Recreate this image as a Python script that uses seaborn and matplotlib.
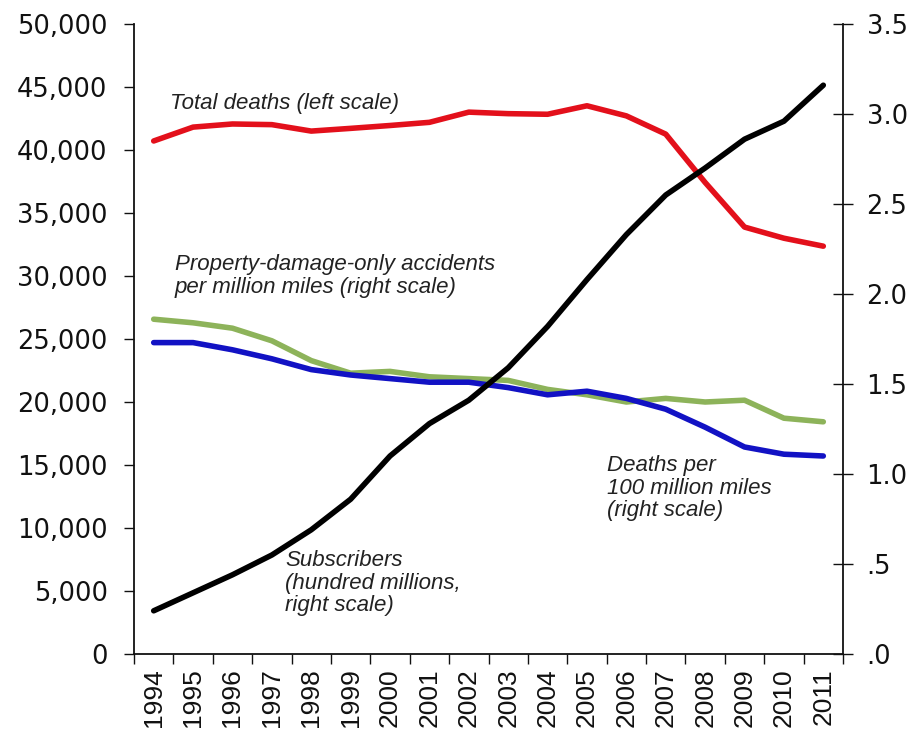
import matplotlib
matplotlib.use("Agg")
import matplotlib.pyplot as plt
import seaborn as sns
import pandas as pd
import numpy as np

years = [1994, 1995, 1996, 1997, 1998, 1999, 2000, 2001, 2002, 2003,
         2004, 2005, 2006, 2007, 2008, 2009, 2010, 2011]
total_deaths = [40716, 41817, 42065, 42013, 41501, 41717, 41945, 42196, 43005,
                42884, 42836, 43510, 42708, 41259, 37423, 33883, 32999, 32367]
subscribers = [0.24, 0.34, 0.44, 0.55, 0.69, 0.86, 1.10, 1.28, 1.41, 1.59,
               1.82, 2.08, 2.33, 2.55, 2.70, 2.86, 2.96, 3.16]
deaths_rate = [1.73, 1.73, 1.69, 1.64, 1.58, 1.55, 1.53, 1.51, 1.51, 1.48,
               1.44, 1.46, 1.42, 1.36, 1.26, 1.15, 1.11, 1.10]
pdo_rate = [1.86, 1.84, 1.81, 1.74, 1.63, 1.56, 1.57, 1.54, 1.53, 1.52,
            1.47, 1.44, 1.40, 1.42, 1.40, 1.41, 1.31, 1.29]
left_ticks = [0, 5000, 10000, 15000, 20000, 25000, 30000, 35000, 40000, 45000, 50000]
left_labels = ["0", "5,000", "10,000", "15,000", "20,000", "25,000", "30,000",
               "35,000", "40,000", "45,000", "50,000"]
right_ticks = [0, 0.5, 1.0, 1.5, 2.0, 2.5, 3.0, 3.5]
right_labels = [".0", ".5", "1.0", "1.5", "2.0", "2.5", "3.0", "3.5"]

sns.set_style("white")
plt.rcParams['font.family'] = ['DejaVu Sans']

df = pd.DataFrame({"x": np.arange(len(years)), "deaths": total_deaths,
                   "subs": subscribers, "rate": deaths_rate, "pdo": pdo_rate})

fig = plt.figure(figsize=(9.21, 7.37), dpi=100)
ax = fig.add_axes([134 / 921, 1 - 654 / 737, (843 - 134) / 921, (654 - 24) / 737])
ax2 = ax.twinx()

lw = 4.0
sns.lineplot(data=df, x="x", y="deaths", ax=ax, color="#e3101b", lw=lw)
sns.lineplot(data=df, x="x", y="pdo", ax=ax2, color="#8db35a", lw=lw)
sns.lineplot(data=df, x="x", y="rate", ax=ax2, color="#1212c4", lw=lw)
sns.lineplot(data=df, x="x", y="subs", ax=ax2, color="#000000", lw=lw)

ax.set_xlim(-0.5, len(years) - 0.5)
ax.set_ylim(0, 50000)
ax2.set_ylim(0, 3.5)

for a in (ax, ax2):
    a.set_xlabel("")
    a.set_ylabel("")
    for s in a.spines.values():
        s.set_visible(False)

ax.spines["left"].set_visible(True)
ax.spines["bottom"].set_visible(True)
ax2.spines["right"].set_visible(True)
for a, side in ((ax, "left"), (ax, "bottom"), (ax2, "right")):
    a.spines[side].set_color("#111111")
    a.spines[side].set_linewidth(1.3)

ax.set_yticks(left_ticks)
ax.set_yticklabels(left_labels)
ax.tick_params(axis="y", direction="out", length=7, width=1.0, colors="#111111",
               labelsize=18.5, pad=12, left=True)
ax2.set_yticks(right_ticks)
ax2.set_yticklabels(right_labels)
ax2.tick_params(axis="y", direction="inout", length=14, width=1.0, colors="#111111",
                labelsize=18.5, pad=10, right=True)

ax.set_xticks(np.arange(len(years)))
ax.set_xticklabels([str(y) for y in years], rotation=90,
                   family=["Liberation Sans", "DejaVu Sans"])
ax.tick_params(axis="x", which="major", length=0, labelsize=19, pad=10, colors="#111111")
ax.set_xticks(np.arange(-0.5, len(years), 1.0), minor=True)
ax.tick_params(axis="x", which="minor", direction="out", length=7, width=1.0,
               colors="#111111", bottom=True)

txt = dict(fontstyle="italic", fontsize=16, color="#222222",
           family=["Liberation Sans", "DejaVu Sans"], transform=fig.transFigure)
fig.text(170 / 921, 1 - 104 / 737, "Total deaths (left scale)", va="center", **txt)
fig.text(175 / 921, 1 - 276 / 737,
         "Property-damage-only accidents\nper million miles (right scale)",
         va="center", linespacing=1.1, **txt)
fig.text(607 / 921, 1 - 488 / 737,
         "Deaths per\n100 million miles\n(right scale)",
         va="center", linespacing=1.1, **txt)
fig.text(285 / 921, 1 - 583 / 737,
         "Subscribers\n(hundred millions,\nright scale)",
         va="center", linespacing=1.1, **txt)

fig.savefig("out.png", dpi=100, facecolor="white")
